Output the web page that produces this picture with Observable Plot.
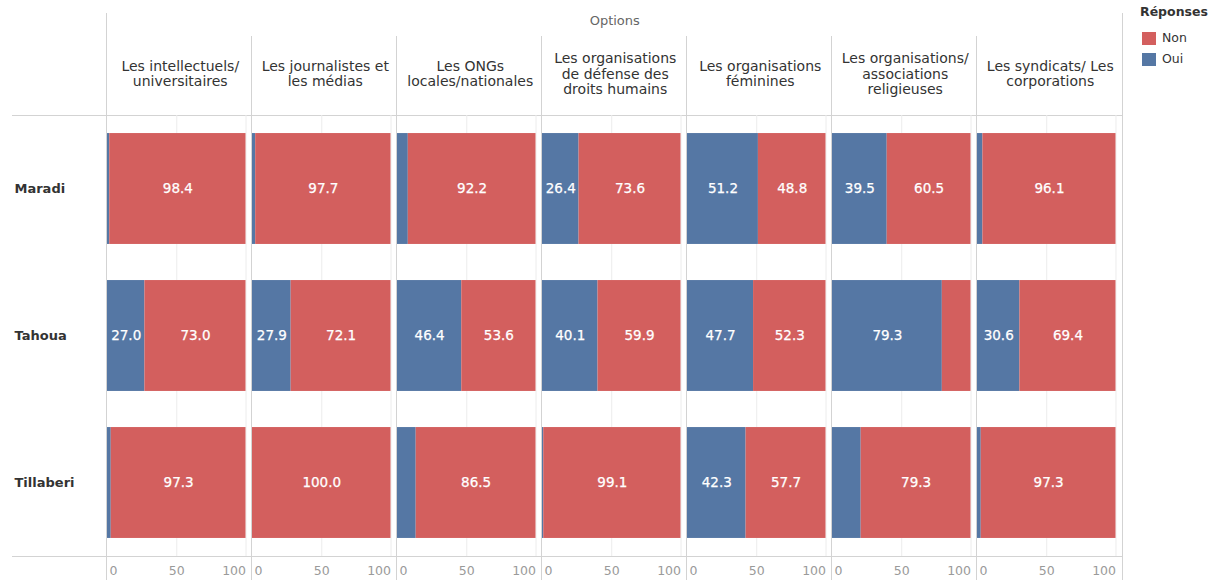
<!DOCTYPE html>
<html>
<head>
<meta charset="utf-8">
<script src="https://cdn.jsdelivr.net/npm/d3@7"></script>
<script src="https://cdn.jsdelivr.net/npm/@observablehq/plot@0.6"></script>
<style>
  body { margin: 0; background: #fff; font-family: "DejaVu Sans", sans-serif; }
  #wrap { position: relative; width: 1208px; height: 580px; }
  #legend { position: absolute; left: 1140px; top: 3px; font-size: 12.5px; color: #333; line-height: 1; }
  #legend .title { font-weight: bold; height: 18px; display: flex; align-items: center; margin-bottom: 7px; }
  #legend .item { display: flex; align-items: center; height: 21px; }
  #legend .sw { width: 14px; height: 13px; margin: 0 6px 0 2px; }
</style>
</head>
<body>
<div id="wrap"></div>
<script>
// Options (columns) and their wrapped header labels
const options = [
  "Les intellectuels/ universitaires",
  "Les journalistes et les médias",
  "Les ONGs locales/nationales",
  "Les organisations de défense des droits humains",
  "Les organisations féminines",
  "Les organisations/ associations religieuses",
  "Les syndicats/ Les corporations"
];
const headerLabels = [
  "Les intellectuels/\nuniversitaires",
  "Les journalistes et\nles médias",
  "Les ONGs\nlocales/nationales",
  "Les organisations\nde défense des\ndroits humains",
  "Les organisations\nféminines",
  "Les organisations/\nassociations\nreligieuses",
  "Les syndicats/ Les\ncorporations"
];
const regions = ["Maradi", "Tahoua", "Tillaberi"];
const answers = ["Non", "Oui"];
const answerColors = ["#d35f5e", "#5577a4"];

// Percent of respondents per region, one value per option
const ouiMaradi = [1.6, 2.3, 7.8, 26.4, 51.2, 39.5, 3.9];
const nonMaradi = [98.4, 97.7, 92.2, 73.6, 48.8, 60.5, 96.1];
const ouiTahoua = [27.0, 27.9, 46.4, 40.1, 47.7, 79.3, 30.6];
const nonTahoua = [73.0, 72.1, 53.6, 59.9, 52.3, 20.7, 69.4];
const ouiTillaberi = [2.7, 0.0, 13.5, 0.9, 42.3, 20.7, 2.7];
const nonTillaberi = [97.3, 100.0, 86.5, 99.1, 57.7, 79.3, 97.3];

const xTicks = [0, 50, 100];

const series = {
  Maradi: {Oui: ouiMaradi, Non: nonMaradi},
  Tahoua: {Oui: ouiTahoua, Non: nonTahoua},
  Tillaberi: {Oui: ouiTillaberi, Non: nonTillaberi}
};

// Long table: "Oui" first so it stacks on the left
const rows = [];
for (const region of regions) {
  options.forEach((option, i) => {
    rows.push({region, option, answer: "Oui", value: series[region].Oui[i]});
    rows.push({region, option, answer: "Non", value: series[region].Non[i]});
  });
}

const font = "DejaVu Sans, sans-serif";
const stackOpts = {x: "value", y: () => "bar", fx: "option", fy: "region"};

const chart = Plot.plot({
  width: 1208,
  height: 580,
  marginTop: 115,
  marginBottom: 24,
  marginLeft: 107,
  marginRight: 92.5,
  style: {fontFamily: font, fontSize: "13px", color: "#333", background: "transparent"},
  fx: {domain: options, paddingInner: 0.0448, paddingOuter: 0, round: false, axis: null, label: null},
  fy: {domain: regions, padding: 0, round: false, axis: null, label: null},
  x: {domain: [0, 100], axis: null, label: null},
  y: {domain: ["bar"], padding: 0.14, round: false, axis: null, label: null},
  color: {domain: answers, range: answerColors},
  marks: [
    Plot.gridX([50, 100], {stroke: "#ececec", strokeOpacity: 1}),
    Plot.barX(rows, Plot.stackX({...stackOpts, fill: "answer"})),
    Plot.text(rows, Plot.stackX({
      ...stackOpts,
      text: d => d.value >= 22 ? d.value.toFixed(1) : "",
      fill: "white",
      stroke: "white",
      strokeWidth: 0.25,
      fontSize: 13.5,
      letterSpacing: 0.3
    })),
    Plot.axisFx({
      anchor: "top", tickSize: 0, tickPadding: 42, lineAnchor: "middle", lineHeight: 1.12,
      tickFormat: d => headerLabels[options.indexOf(d)],
      dx: 3.5, fontSize: 14, letterSpacing: 0.2, fill: "#333", label: null
    }),
    Plot.axisFy({
      anchor: "left", tickSize: 0, tickPadding: 93, textAnchor: "start",
      fontWeight: "bold", fontSize: 13, fill: "#333", label: null
    }),
    Plot.axisX([xTicks[0]], {tickSize: 0, tickPadding: 10, textAnchor: "start", dx: 2, fill: "#9a9a9a", fontSize: 12.5, label: null}),
    Plot.axisX([xTicks[1]], {tickSize: 0, tickPadding: 10, textAnchor: "middle", fill: "#9a9a9a", fontSize: 12.5, label: null}),
    Plot.axisX([xTicks[2]], {tickSize: 0, tickPadding: 10, textAnchor: "end", fill: "#9a9a9a", fontSize: 12.5, label: null})
  ]
});

// Pane borders and header dividers, placed with the facet scale
const fxScale = chart.scale("fx");
const step = fxScale.apply(options[1]) - fxScale.apply(options[0]);
const paneTop = 115, paneBottom = 580 - 24, headTop = 36, bandTop = 13;
const rightEdge = Math.round(fxScale.apply(options[options.length - 1]) + step) + 0.5;
const svg = d3.select(chart);
const deco = svg.insert("g", "g").attr("stroke", "#d3d3d3").attr("fill", "none");
options.forEach((o, i) => {
  const x = Math.round(fxScale.apply(o)) - 0.5;
  deco.append("line").attr("x1", x).attr("x2", x)
    .attr("y1", i === 0 ? bandTop : headTop).attr("y2", 580);
});
deco.append("line").attr("x1", rightEdge).attr("x2", rightEdge).attr("y1", bandTop).attr("y2", 580);
for (const y of [paneTop + 0.5, paneBottom + 0.5]) {
  deco.append("line").attr("x1", 12).attr("x2", rightEdge).attr("y1", y).attr("y2", y);
}
svg.append("text")
  .attr("x", (fxScale.apply(options[0]) + rightEdge) / 2)
  .attr("y", 21)
  .attr("text-anchor", "middle")
  .attr("dominant-baseline", "middle")
  .attr("fill", "#666")
  .attr("font-size", 13)
  .attr("font-family", font)
  .text("Options");

const wrap = document.getElementById("wrap");
wrap.appendChild(chart);

// Colour legend
const legend = document.createElement("div");
legend.id = "legend";
legend.innerHTML = `<div class="title">Réponses</div>` +
  answers.map((a, i) => `<div class="item"><div class="sw" style="background:${answerColors[i]}"></div>${a}</div>`).join("");
wrap.appendChild(legend);
</script>
</body>
</html>
